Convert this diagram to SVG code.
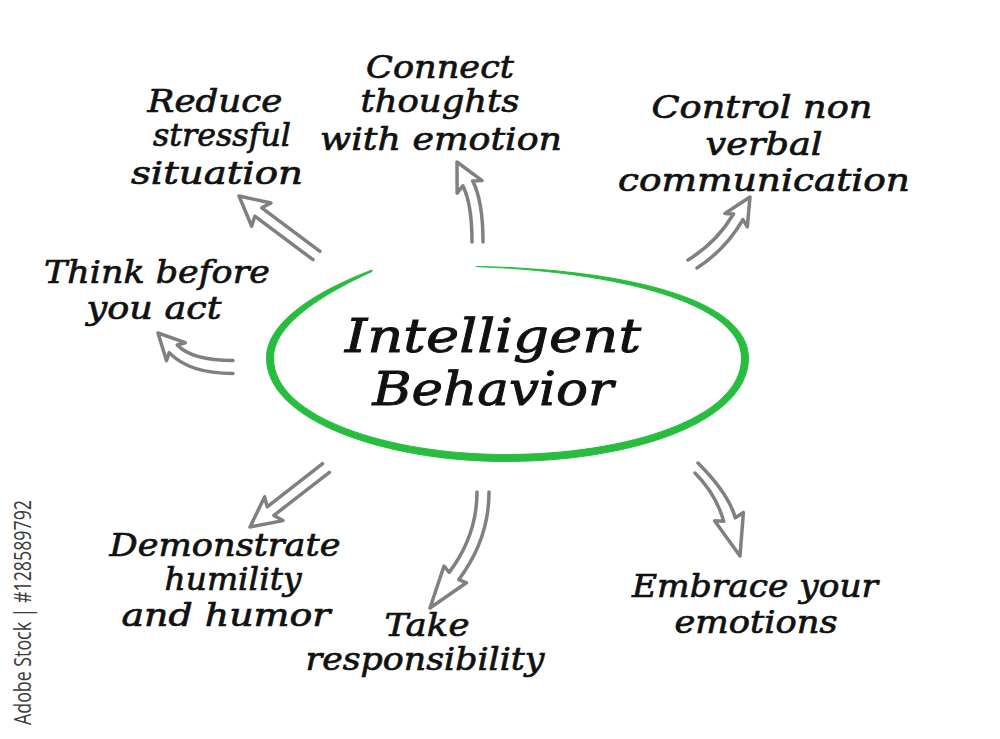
<svg xmlns="http://www.w3.org/2000/svg" width="1000" height="739" viewBox="0 0 1000 739">
<style>
.t{font-family:"DejaVu Serif","Liberation Serif",serif;font-style:italic;font-size:31px;fill:#111;stroke:#111;stroke-width:0.7;text-anchor:middle}
.big{font-size:46px;stroke-width:0.9}
.arr{fill:none;stroke:#808080;stroke-width:3.5;stroke-linejoin:round;stroke-linecap:round}
.wm{font-family:"Open Sans","Liberation Sans",sans-serif;font-size:23px;fill:#3a3a3a}
</style>
<rect width="1000" height="739" fill="#fff"/>
<g id="center">
<path d="M372,270 C319,290 266.5,321 266.5,358 C266.5,422 389,461.5 505,461.5 C632,461.5 748.5,422 748.5,358 C748.5,298 621,269 476,266.5 C619,272 741.5,303 741.5,358 C741.5,418 628,454.5 505,454.5 C391,454.5 273.5,418 273.5,358 C273.5,325 321,295 372,271.5 Z" fill="#27be3f" stroke="#27be3f" stroke-width="1" stroke-linejoin="round"/>
<text class="t big" x="493" y="352" textLength="296" lengthAdjust="spacingAndGlyphs">Intelligent</text>
<text class="t big" x="493" y="405" textLength="241" lengthAdjust="spacingAndGlyphs">Behavior</text>
</g>
<g id="connectors">
<path class="arr" d="M320,251.3 L261.8,207.8 L270.9,203 L239,196 L251.7,226.2 L254.8,216.2 L313,259.7"/>
<path class="arr" d="M233,360.5 Q192,360.5 177.2,345 L185.3,342.7 L158,333 L166.5,360.7 L169.2,352.6 Q189.2,373.5 233,373.5"/>
<path class="arr" d="M483,242 Q483,201.3 472.7,180.9 L482.1,180.6 L457,162 L457.1,193.2 L462.9,185.9 Q472,203.9 472,242"/>
<path class="arr" d="M688,260 Q716.4,242.7 733.5,214 L724.9,213.5 L750,197 L747.3,226.9 L742.9,219.6 Q725.6,249.5 697,268"/>
<path class="arr" d="M322.6,463.7 L267.2,506.8 L264.6,496.9 L250,527 L282.9,520.6 L273.9,515.4 L329.4,472.3"/>
<path class="arr" d="M477,492 Q477,535.4 449.2,572.4 L444,566 L430,608 L466.4,582.8 L458.8,579.6 Q489,539.3 489,492"/>
<path class="arr" d="M695,473 Q715.8,493.8 723.7,521.2 L714.6,520.7 L740,556 L743.4,512.5 L735.3,517.8 Q728.3,493.3 698,463"/>
</g>
<g id="reduce">
<text class="t" x="215" y="112" textLength="135" lengthAdjust="spacingAndGlyphs">Reduce</text>
<text class="t" x="222" y="146" textLength="138" lengthAdjust="spacingAndGlyphs">stressful</text>
<text class="t" x="217" y="184" textLength="172" lengthAdjust="spacingAndGlyphs">situation</text>
</g>
<g id="connect">
<text class="t" x="440" y="78" textLength="148" lengthAdjust="spacingAndGlyphs">Connect</text>
<text class="t" x="440" y="112" textLength="159" lengthAdjust="spacingAndGlyphs">thoughts</text>
<text class="t" x="441" y="150" textLength="242" lengthAdjust="spacingAndGlyphs">with emotion</text>
</g>
<g id="control">
<text class="t" x="762" y="118" textLength="221" lengthAdjust="spacingAndGlyphs">Control non</text>
<text class="t" x="764" y="155" textLength="117" lengthAdjust="spacingAndGlyphs">verbal</text>
<text class="t" x="764" y="191" textLength="292" lengthAdjust="spacingAndGlyphs">communication</text>
</g>
<g id="think">
<text class="t" x="157" y="283" textLength="226" lengthAdjust="spacingAndGlyphs">Think before</text>
<text class="t" x="154" y="319" textLength="135" lengthAdjust="spacingAndGlyphs">you act</text>
</g>
<g id="demonstrate">
<text class="t" x="225" y="556" textLength="231" lengthAdjust="spacingAndGlyphs">Demonstrate</text>
<text class="t" x="233" y="590" textLength="137" lengthAdjust="spacingAndGlyphs">humility</text>
<text class="t" x="226" y="626" textLength="209" lengthAdjust="spacingAndGlyphs">and humor</text>
</g>
<g id="take">
<text class="t" x="427" y="636" textLength="85" lengthAdjust="spacingAndGlyphs">Take</text>
<text class="t" x="425" y="670" textLength="239" lengthAdjust="spacingAndGlyphs">responsibility</text>
</g>
<g id="embrace">
<text class="t" x="755" y="597" textLength="246" lengthAdjust="spacingAndGlyphs">Embrace your</text>
<text class="t" x="756" y="633" textLength="163" lengthAdjust="spacingAndGlyphs">emotions</text>
</g>
<g id="watermark">
<text class="wm" transform="translate(31,725) rotate(-90)" textLength="225" lengthAdjust="spacingAndGlyphs">Adobe Stock | #128589792</text>
</g>
</svg>
